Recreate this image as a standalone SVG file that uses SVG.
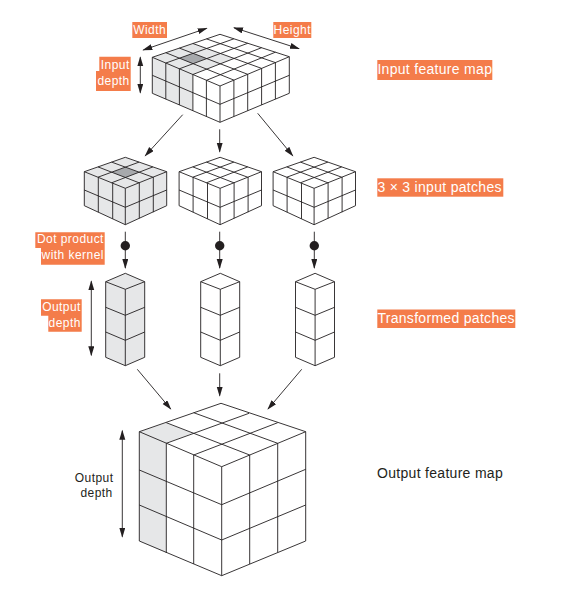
<svg xmlns="http://www.w3.org/2000/svg" xmlns:xlink="http://www.w3.org/1999/xlink" width="571" height="591" viewBox="0 0 571 591">
<style>
text{font-family:"Liberation Sans",Arial,sans-serif;font-size:12px;letter-spacing:.45px}
.t{fill:#fff}.k{fill:#231f20}
.big{font-size:14px;letter-spacing:.3px}
.e{text-anchor:end}.m{text-anchor:middle}
.o{fill:#f47c4a}
.g{fill:#e6e7e8}.d{fill:#a7a9ac}
.w{fill:none;stroke:#231f20;stroke-width:.9;stroke-linejoin:miter}
.a{fill:none;stroke:#231f20;stroke-width:.9}
</style>
<defs>
<marker id="h" markerUnits="userSpaceOnUse" markerWidth="12" markerHeight="8" refX="9" refY="3" orient="auto-start-reverse"><path d="M0 0L10 3L0 6Z" fill="#231f20"/></marker>
<path id="patch" class="w" d="M84.3 171.7L125.3 157.3L166.7 171.7L125.3 188.3ZM84.3 171.7V205.7L125.3 224.7L166.7 205.7V171.7M125.3 188.3V224.7M84.3 190L125.3 207.3L166.7 190M98.3 177.3V212.2M112.7 183.2V218.9M139.3 182.7V218.3M153.3 177V212.2M98 177.2L139.1 162.1M111.6 182.8L152.9 166.9M98 166.9L139.1 182.8M111.6 162.1L152.9 177.2"/>
<path id="col" class="w" d="M105.7 281.7L125.3 273.3L144.7 281.7L125.3 289.3ZM105.7 281.7V357.3L125.3 365.7L144.7 357.3V281.7M125.3 289.3V365.7M105.7 307.3L125.3 315.3L144.7 307.3M105.7 332L125.3 340.3L144.7 332"/>
</defs>
<g id="connectors">
<path class="a" marker-start="url(#h)" marker-end="url(#h)" d="M143.3 50L206.7 28.3"/>
<path class="a" marker-start="url(#h)" marker-end="url(#h)" d="M234 27.7L299 48.7"/>
<path class="a" marker-start="url(#h)" marker-end="url(#h)" d="M140.3 57.3V92.7"/>
<path class="a" marker-end="url(#h)" d="M182.7 114.7L145.3 155.7"/>
<path class="a" marker-end="url(#h)" d="M219.7 129.3V151.7"/>
<path class="a" marker-end="url(#h)" d="M257.7 113.3L292.7 155.7"/>
<path class="a" marker-end="url(#h)" d="M125.3 231.7V268"/>
<path class="a" marker-end="url(#h)" d="M219.7 231.7V268"/>
<path class="a" marker-end="url(#h)" d="M314.3 231.7V268"/>
<circle cx="125.3" cy="245.7" r="4.7" fill="#231f20"/>
<circle cx="219.7" cy="245.7" r="4.7" fill="#231f20"/>
<circle cx="314.3" cy="245.7" r="4.7" fill="#231f20"/>
<path class="a" marker-start="url(#h)" marker-end="url(#h)" d="M91.3 281.3V355.3"/>
<path class="a" marker-end="url(#h)" d="M137.3 369.3L170.7 409"/>
<path class="a" marker-end="url(#h)" d="M219.7 373.3V395.7"/>
<path class="a" marker-end="url(#h)" d="M301.7 369.3L268 409"/>
<path class="a" marker-start="url(#h)" marker-end="url(#h)" d="M122.3 430.7V536.7"/>
</g>
<g id="input-map">
<path class="g" d="M152.3 57.3L192.9 43.5L234.1 58.5L192.9 74.5V110.7L152.3 93.3Z"/>
<path class="d" d="M179.4 58.2L193 53.3L206.7 58.6L193 63.7Z"/>
<path class="w" d="M152.3 57.3L220 34.3L289.3 56.7L220 86ZM152.3 57.3V93.3L220 122.3L289.3 93.3V56.7M220 86V122.3M152.3 75.3L220 104.3L289.3 75.3M165.8 63V99.1M179.4 68.8V104.9M192.9 74.5V110.7M206.4 80.3V116.5M233.9 80.1V116.5M247.7 74.3V110.7M261.6 68.4V104.9M275.4 62.6V99.1M165.9 63L233.9 38.8M179.4 68.8L247.7 43.3M192.9 74.5L261.6 47.7M206.5 80.3L275.4 52.2M165.8 52.7L233.9 80.1M179.4 48.1L247.7 74.3M192.9 43.5L261.6 68.4M206.5 38.9L275.4 62.6"/>
</g>
<g id="patch-1">
<path class="g" d="M84.3 171.7L125.3 157.3L166.7 171.7V205.7L125.3 224.7L84.3 205.7Z"/>
<path class="d" d="M111.8 172.2L125.3 167.2L139.1 172.2L125.3 177.6Z"/>
<use href="#patch" xlink:href="#patch"/>
</g>
<g id="patch-2"><use href="#patch" xlink:href="#patch" x="94.8"/></g>
<g id="patch-3"><use href="#patch" xlink:href="#patch" x="188.8"/></g>
<g id="column-1">
<path class="g" d="M105.7 281.7L125.3 273.3L144.7 281.7V357.3L125.3 365.7L105.7 357.3Z"/>
<use href="#col" xlink:href="#col"/>
</g>
<g id="column-2"><use href="#col" xlink:href="#col" x="95"/></g>
<g id="column-3"><use href="#col" xlink:href="#col" x="189.8"/></g>
<g id="output-map">
<path class="g" d="M139.3 431.7L166.3 422.7L192.7 432.9L166.3 443.3V553L139.3 541Z"/>
<path class="w" d="M139.3 431.7L221 403.3L305.7 431.7L221.7 466.7ZM139.3 431.7V541L221.7 575.7L305.7 541V431.7M221.7 466.7V575.7M139.3 470L221.7 504.7L305.7 469.3M139.3 505L221.7 540L305.7 505M166.3 443.3V553M193.7 455V564M249.7 455V564M277.7 443.3V552.3M166.3 443.3L249 413.3M193.7 455L277.7 422.7M166.3 422.7L249.7 455M193.7 412.7L277.7 443.3"/>
</g>
<g id="label-width"><rect class="o" x="132.3" y="22" width="34.7" height="16"/><text class="t m" x="149.6" y="34">Width</text></g>
<g id="label-height"><rect class="o" x="273.3" y="22" width="38" height="16"/><text class="t m" x="292.3" y="34">Height</text></g>
<g id="label-input-depth"><path class="o" d="M99.3 56.7H130.7V91H96V71H99.3Z"/><text class="t e" x="129.7" y="68.5">Input</text><text class="t e" x="129.7" y="85">depth</text></g>
<g id="label-dot-product"><path class="o" d="M35.3 232.3H104.7V264.7H41V248H35.3Z"/><text class="t e" x="103.9" y="243.3">Dot product</text><text class="t e" x="103.9" y="259.3">with kernel</text></g>
<g id="label-output-depth-1"><path class="o" d="M41 299.3H81.7V331.7H48.3V315.7H41Z"/><text class="t e" x="80.9" y="310.7">Output</text><text class="t e" x="80.9" y="326.7">depth</text></g>
<g id="label-output-depth-2"><text class="k e" x="113.5" y="481.7">Output</text><text class="k e" x="112.7" y="497.3">depth</text></g>
<g id="caption-input"><rect class="o" x="377.3" y="60" width="115" height="20"/><text class="t big" x="377.4" y="74">Input feature map</text></g>
<g id="caption-patches"><rect class="o" x="377.3" y="178.3" width="126" height="18.4"/><text class="t big" x="377.4" y="192">3 × 3 input patches</text></g>
<g id="caption-transformed"><rect class="o" x="377.3" y="309.5" width="138" height="18.5"/><text class="t big" x="377.4" y="323">Transformed patches</text></g>
<g id="caption-output"><text class="k big" x="377" y="478">Output feature map</text></g>
</svg>
